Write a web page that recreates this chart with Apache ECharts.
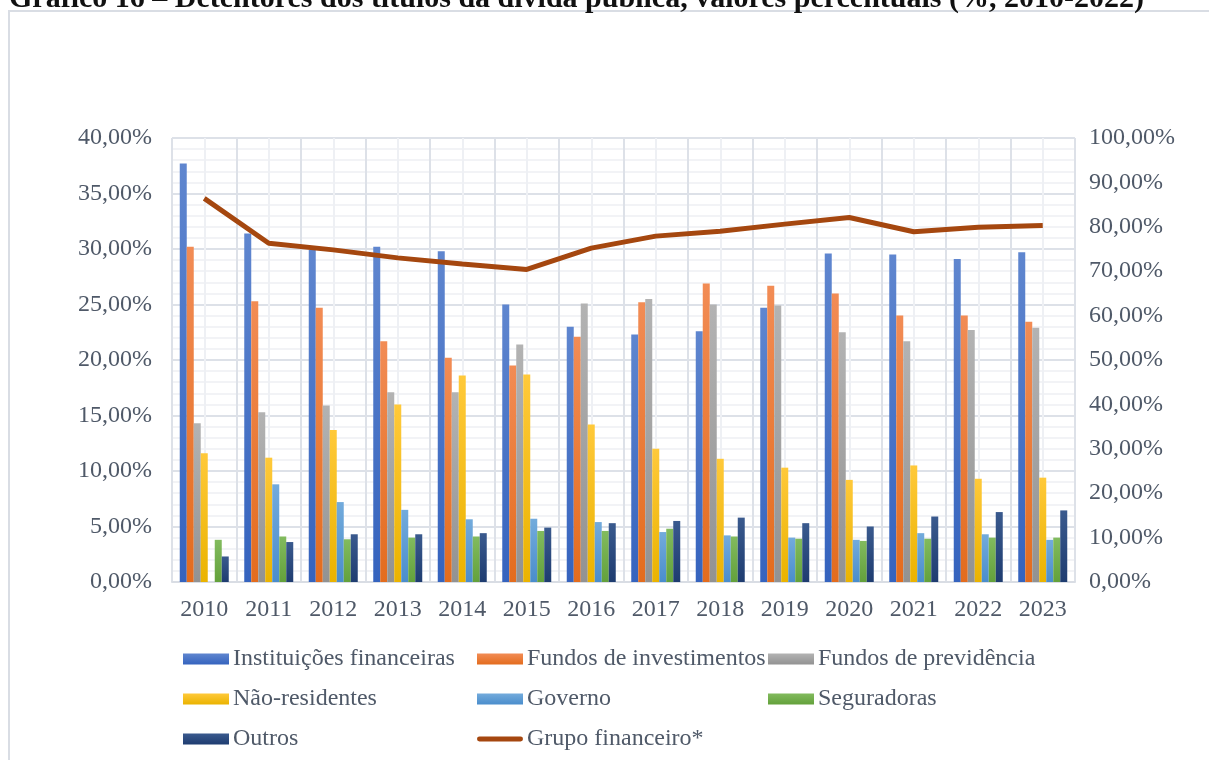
<!DOCTYPE html>
<html>
<head>
<meta charset="utf-8">
<script src="https://cdn.jsdelivr.net/npm/echarts@6/dist/echarts.min.js"></script>
<style>
  html, body { margin: 0; padding: 0; background: #fff; }
  #chart { width: 1209px; height: 760px; }
</style>
</head>
<body>
<div id="chart"></div>
<script>
  // anos (eixo x)
  var anos = ['2010', '2011', '2012', '2013', '2014', '2015', '2016', '2017', '2018', '2019', '2020', '2021', '2022', '2023'];

  // detentores, % (eixo esquerdo)
  var instituicoes = [37.7, 31.4, 29.9, 30.2, 29.8, 25.0, 23.0, 22.3, 22.6, 24.7, 29.6, 29.5, 29.1, 29.7];
  var fundosInvest = [30.2, 25.3, 24.7, 21.7, 20.2, 19.5, 22.1, 25.2, 26.9, 26.7, 26.0, 24.0, 24.0, 23.45];
  var fundosPrev = [14.3, 15.3, 15.9, 17.1, 17.1, 21.4, 25.1, 25.5, 25.0, 24.9, 22.5, 21.7, 22.7, 22.9];
  var naoResidentes = [11.6, 11.2, 13.7, 16.0, 18.6, 18.7, 14.2, 12.0, 11.1, 10.3, 9.2, 10.5, 9.3, 9.4];
  var governo = [null, 8.8, 7.2, 6.5, 5.65, 5.7, 5.4, 4.5, 4.2, 4.0, 3.8, 4.4, 4.3, 3.8];
  var seguradoras = [3.8, 4.1, 3.85, 4.0, 4.1, 4.6, 4.6, 4.8, 4.1, 3.9, 3.7, 3.9, 4.0, 4.0];
  var outros = [2.3, 3.6, 4.3, 4.3, 4.4, 4.9, 5.3, 5.5, 5.8, 5.3, 5.0, 5.9, 6.3, 6.45];

  // grupo financeiro, % (eixo direito)
  var grupoFinanceiro = [86.4, 76.3, 74.8, 73.0, 71.6, 70.4, 75.2, 77.9, 79.0, 80.6, 82.1, 78.9, 79.9, 80.3];

  var fonte = '"Liberation Serif", "Times New Roman", serif';
  var corTexto = '#4f5968';

  function fmt(v) {
    return v.toFixed(2).replace('.', ',') + '%';
  }

  // gradiente vertical estilo Excel
  function grad(top, bottom) {
    return new echarts.graphic.LinearGradient(0, 0, 0, 1, [
      { offset: 0, color: top },
      { offset: 1, color: bottom }
    ]);
  }

  var barras = [
    { name: 'Instituições financeiras', data: instituicoes, c1: '#5f86cf', c2: '#3563be' },
    { name: 'Fundos de investimentos', data: fundosInvest, c1: '#f28c55', c2: '#e36c1e' },
    { name: 'Fundos de previdência', data: fundosPrev, c1: '#b3b3b3', c2: '#929292' },
    { name: 'Não-residentes', data: naoResidentes, c1: '#ffc93a', c2: '#eab300' },
    { name: 'Governo', data: governo, c1: '#73abdc', c2: '#4a8dcc' },
    { name: 'Seguradoras', data: seguradoras, c1: '#82bb5e', c2: '#63a13b' },
    { name: 'Outros', data: outros, c1: '#3a5a8e', c2: '#1e3c70' }
  ];

  var series = barras.map(function (b) {
    return {
      name: b.name,
      type: 'bar',
      xAxisIndex: 0,
      yAxisIndex: 0,
      barWidth: 7,
      barGap: '0%',
      data: b.data,
      itemStyle: { color: grad(b.c1, b.c2) },
      emphasis: { disabled: true }
    };
  });

  series.push({
    name: 'Grupo financeiro*',
    type: 'line',
    xAxisIndex: 0,
    yAxisIndex: 1,
    data: grupoFinanceiro,
    symbol: 'none',
    lineStyle: { color: '#a5470f', width: 5 },
    itemStyle: { color: '#a5470f' },
    z: 5
  });

  function legenda(left, nomes) {
    return {
      orient: 'vertical',
      left: left,
      top: 647,
      padding: 0,
      itemWidth: 46,
      itemHeight: 11,
      itemGap: 16,
      textStyle: { fontFamily: fonte, fontSize: 24, color: corTexto, lineHeight: 24, padding: [0, 0, 0, -1] },
      data: nomes.map(function (n) {
        var b = barras.find(function (x) { return x.name === n; });
        if (b) return { name: n, icon: 'rect', itemStyle: { color: grad(b.c1, b.c2) } };
        return { name: n, icon: 'path://M2,0 L44,0 A2,2 0 0 1 44,5 L2,5 A2,2 0 0 1 2,0 Z', itemHeight: 5, itemStyle: { color: '#a5470f' } };
      })
    };
  }

  var myChart = echarts.init(document.getElementById('chart'));
  myChart.setOption({
    animation: false,
    backgroundColor: '#fff',
    title: {
      text: 'Gráfico 16 – Detentores dos títulos da dívida pública, valores percentuais (%, 2010-2022)',
      left: 4,
      top: -21,
      textStyle: { fontFamily: fonte, fontSize: 30, fontWeight: 'bold', color: '#111' }
    },
    graphic: [{
      type: 'rect',
      shape: { x: 9, y: 11, width: 1230, height: 790 },
      style: { fill: 'none', stroke: '#d9dde4', lineWidth: 2 },
      silent: true
    }],
    legend: [
      legenda(183, ['Instituições financeiras', 'Não-residentes', 'Outros']),
      legenda(477, ['Fundos de investimentos', 'Governo', 'Grupo financeiro*']),
      legenda(768, ['Fundos de previdência', 'Seguradoras'])
    ],
    grid: { left: 172, right: 134, top: 138, bottom: 178 },
    xAxis: [{
      type: 'category',
      data: anos,
      axisLine: { lineStyle: { color: '#d9dde4', width: 2 } },
      axisTick: { show: false },
      axisLabel: { fontFamily: fonte, fontSize: 24, color: corTexto, margin: 16 },
      splitLine: { show: false }
    }, {
      // linhas verticais da grade (fronteiras e centros das categorias)
      type: 'value',
      min: 0,
      max: 14,
      interval: 1,
      position: 'bottom',
      axisLine: { show: false },
      axisTick: { show: false },
      axisLabel: { show: false },
      splitLine: { show: true, lineStyle: { color: '#dde1e8', width: 2 } },
      minorTick: { show: false, splitNumber: 2 },
      minorSplitLine: { show: true, lineStyle: { color: '#eef0f4', width: 2 } }
    }],
    yAxis: [{
      type: 'value',
      min: 0,
      max: 40,
      interval: 5,
      axisLine: { show: false },
      axisTick: { show: false },
      axisLabel: { fontFamily: fonte, fontSize: 24, color: corTexto, margin: 20, formatter: fmt },
      splitLine: { lineStyle: { color: '#dde1e8', width: 2 } },
      minorTick: { show: false, splitNumber: 5 },
      minorSplitLine: { show: true, lineStyle: { color: '#eef0f4', width: 1.5 } }
    }, {
      type: 'value',
      min: 0,
      max: 100,
      interval: 10,
      position: 'right',
      axisLine: { show: false },
      axisTick: { show: false },
      axisLabel: { fontFamily: fonte, fontSize: 24, color: corTexto, margin: 14, formatter: fmt },
      splitLine: { show: false }
    }],
    series: series
  });
</script>
</body>
</html>
